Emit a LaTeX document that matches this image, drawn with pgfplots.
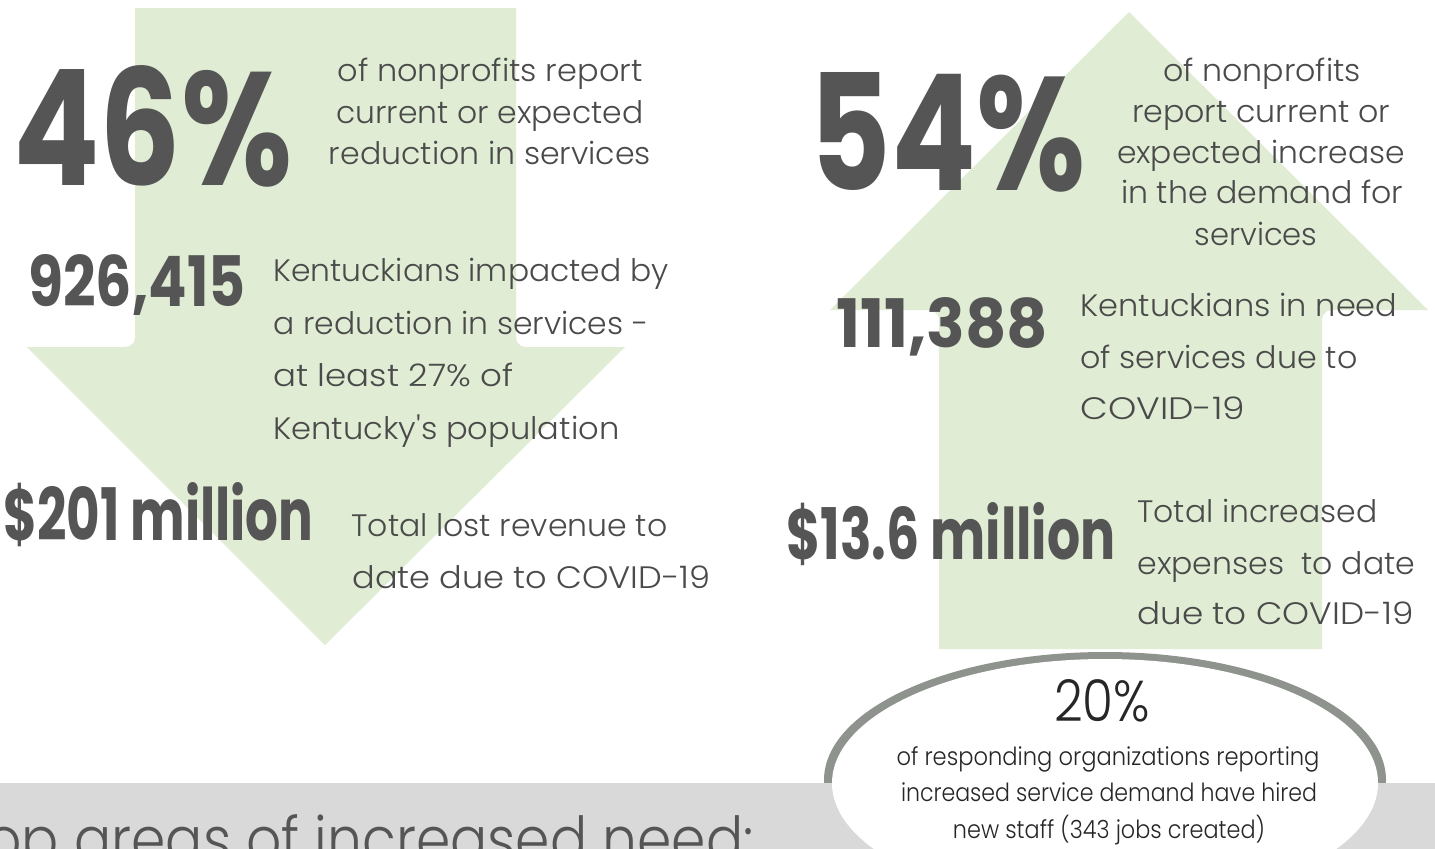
\documentclass[border=0pt]{standalone}
\usepackage{fontspec}
\setmainfont{Poppins}[UprightFont=* Light, BoldFont=* Bold]
\usepackage{graphicx}
\usepackage{pgfplots}
\pgfplotsset{compat=1.18}
\definecolor{argreen}{HTML}{E0EDD4}
\definecolor{txt}{HTML}{4A4A4A}
\definecolor{num}{HTML}{555555}
\definecolor{band}{HTML}{D9D9D9}
\definecolor{ring}{HTML}{8E938E}
\newcommand\tw[2]{\resizebox{\dimexpr #1pt/2\relax}{\height}{#2}}
\newcommand\bn[3]{\resizebox{\dimexpr #1pt/2\relax}{\dimexpr #2pt/2\relax}{\bfseries #3}}
\begin{document}
\begin{tikzpicture}
\begin{axis}[scale only axis, width=717.5pt, height=424pt,
  xmin=0, xmax=1435, ymin=0, ymax=848, y dir=reverse,
  hide axis, clip=false]
% background
\addplot[fill=white, draw=none] coordinates {(0,0)(1435,0)(1435,848)(0,848)};
% left arrow (down)
\addplot[fill=argreen, draw=none] coordinates {
 (135,8)(516,8)(516,337)(517,342)(521,346)(526,347)(625,347)(325,645)(27,347)
 (125,347)(130,346)(134,342)(135,337)};
% right arrow (up)
\addplot[fill=argreen, draw=none] coordinates {
 (1129,12)(1428,310)(1332,310)(1327,311)(1323,315)(1322,320)(1322,649)(939,649)
 (939,320)(938,315)(934,311)(929,310)(830,310)};
% left texts
\node[anchor=south west, inner sep=0, text=num] at (axis cs:13,188) {\bn{279}{120}{46\%}};
\begin{scope}[every node/.style={inner sep=0, text=txt, font=\fontsize{15.5}{18}\selectfont}]
\node[anchor=mid] at (axis cs:490,76) {\tw{305}{of nonprofits report}};
\node[anchor=mid] at (axis cs:490,118) {\tw{307}{current or expected}};
\node[anchor=mid] at (axis cs:490,159) {\tw{322}{reduction in services}};
\node[anchor=mid west] at (axis cs:273,276) {\tw{395}{Kentuckians impacted by}};
\node[anchor=mid west] at (axis cs:273,329) {\tw{375}{a reduction in services -}};
\node[anchor=mid west] at (axis cs:273,381) {\tw{240}{at least 27\% of}};
\node[anchor=mid west] at (axis cs:273,434) {\tw{346}{Kentucky\textquotesingle s population}};
\node[anchor=mid west] at (axis cs:351,531) {\tw{316}{Total lost revenue to}};
\node[anchor=mid west] at (axis cs:352,583) {\tw{358}{date due to COVID-19}};
% right texts
\node[anchor=mid] at (axis cs:1262,76) {\tw{198}{of nonprofits}};
\node[anchor=mid] at (axis cs:1261,117) {\tw{258}{report current or}};
\node[anchor=mid] at (axis cs:1261,158) {\tw{288}{expected increase}};
\node[anchor=mid] at (axis cs:1262,198) {\tw{282}{in the demand for}};
\node[anchor=mid] at (axis cs:1256,240) {\tw{123}{services}};
\node[anchor=mid west] at (axis cs:1080,311) {\tw{317}{Kentuckians in need}};
\node[anchor=mid west] at (axis cs:1080,363) {\tw{277}{of services due to}};
\node[anchor=mid west] at (axis cs:1080,414) {\tw{165}{COVID-19}};
\node[anchor=mid west] at (axis cs:1137,517) {\tw{240}{Total increased}};
\node[anchor=mid west] at (axis cs:1137,569) {\tw{278}{expenses~~to date}};
\node[anchor=mid west] at (axis cs:1137,619) {\tw{276}{due to COVID-19}};
\end{scope}
\node[anchor=base west, inner sep=0, text=num] at (axis cs:28,306) {\bn{217}{52}{926,415}};
\node[anchor=base west, inner sep=0, text=num] at (axis cs:3,540) {\bn{310}{58}{\$201 million}};
\node[anchor=south west, inner sep=0, text=num] at (axis cs:809,193) {\bn{276}{118}{54\%}};
\node[anchor=base west, inner sep=0, text=num] at (axis cs:836,347) {\bn{212}{50}{111,388}};
\node[anchor=base west, inner sep=0, text=num] at (axis cs:786,559) {\bn{329}{57}{\$13.6 million}};
% ellipse ring, band, white ellipse
\fill[ring] (axis cs:1105,780) ellipse [x radius=140.5pt, y radius=64pt];
\addplot[fill=band, draw=none] coordinates {(0,783)(1435,783)(1435,870)(0,870)};
\fill[white] (axis cs:1105,783) ellipse [x radius=136.5pt, y radius=62pt];
\node[anchor=base, inner sep=0, text=black!85] at (axis cs:1102,721) {\resizebox{48pt}{21pt}{20\%}};
\begin{scope}[every node/.style={inner sep=0, text=black!85, font=\fontsize{12.5}{15}\selectfont}]
\node[anchor=mid] at (axis cs:1108,760) {\tw{423}{of responding organizations reporting}};
\node[anchor=mid] at (axis cs:1109,796) {\tw{416}{increased service demand have hired}};
\node[anchor=mid] at (axis cs:1109,833) {\tw{312}{new staff (343 jobs created)}};
\end{scope}
\node[anchor=base east, inner sep=0, text=num, font=\fontsize{31}{36}\selectfont] at (axis cs:754,861) {\scalebox{0.89}[1]{Top areas of increased need:}};
\end{axis}
\pgfresetboundingbox
\useasboundingbox (current axis.south west) rectangle (current axis.north east);
\end{tikzpicture}
\end{document}
